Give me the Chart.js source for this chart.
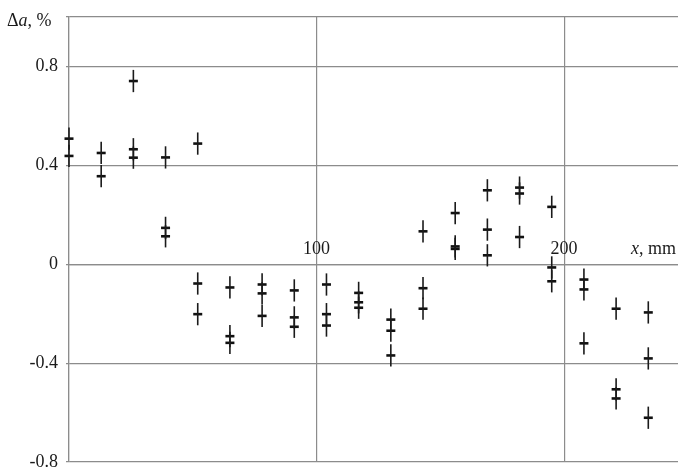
<!DOCTYPE html>
<html>
<head>
<meta charset="utf-8">
<script src="https://cdn.jsdelivr.net/npm/chart.js@4/dist/chart.umd.min.js"></script>
<style>
  html, body { margin: 0; padding: 0; background: #fff; }
  #wrap { width: 678px; height: 468px; }
</style>
</head>
<body>
<div id="wrap"><canvas id="myChart"></canvas></div>
<script>
// positions along the sample, mm (three readings at most per position)
const xMm = [
    0, 0,
    13, 13,
    26, 26, 26,
    39, 39, 39,
    52, 52, 52,
    65, 65, 65,
    78, 78, 78,
    91, 91, 91,
    104, 104, 104,
    117, 117, 117,
    130, 130, 130,
    143, 143, 143,
    156, 156, 156,
    169, 169, 169,
    182, 182, 182,
    195, 195, 195,
    208, 208, 208,
    221, 221, 221,
    234, 234, 234
];
// relative deviation, %
const deltaA = [
    0.508, 0.438,
    0.45, 0.356,
    0.741, 0.465, 0.431,
    0.432, 0.147, 0.113,
    0.488, -0.078, -0.202,
    -0.094, -0.291, -0.318,
    -0.082, -0.118, -0.209,
    -0.106, -0.215, -0.253,
    -0.082, -0.202, -0.248,
    -0.116, -0.154, -0.176,
    -0.224, -0.269, -0.369,
    0.133, -0.097, -0.18,
    0.207, 0.072, 0.062,
    0.299, 0.14, 0.036,
    0.31, 0.286, 0.11,
    0.232, -0.013, -0.069,
    -0.062, -0.102, -0.32,
    -0.18, -0.506, -0.543,
    -0.195, -0.381, -0.621
];
const errHalf = 0.045; // half length of the error bar
const xTicks = [100, 200];
const yTicks = [-0.8, -0.4, 0, 0.4, 0.8];

const serif = "'Liberation Serif', 'Times New Roman', serif";
const gridColor = '#8c8c8c';

// vertical error bars, drawn through the scales
const errorBars = {
    id: 'errorBars',
    afterDatasetsDraw(chart) {
        const ctx = chart.ctx;
        const xs = chart.scales.x, ys = chart.scales.y;
        ctx.save();
        ctx.strokeStyle = '#1a1a1a';
        ctx.lineWidth = 1.6;
        xMm.forEach((x, i) => {
            const px = xs.getPixelForValue(x);
            ctx.beginPath();
            ctx.moveTo(px, ys.getPixelForValue(deltaA[i] + errHalf));
            ctx.lineTo(px, ys.getPixelForValue(deltaA[i] - errHalf));
            ctx.stroke();
        });
        ctx.restore();
    }
};

// axis captions (italic variable names)
const captions = {
    id: 'captions',
    afterDraw(chart) {
        const ctx = chart.ctx;
        const ys = chart.scales.y;
        ctx.save();
        ctx.fillStyle = '#1a1a1a';
        ctx.textBaseline = 'middle';
        // Δa, %
        let yTop = ys.getPixelForValue(1.0) + 4;
        let x = 7;
        ctx.font = '18px ' + serif;
        ctx.fillText('\u0394', x, yTop);
        x += ctx.measureText('\u0394').width;
        ctx.font = 'italic 18px ' + serif;
        ctx.fillText('a', x, yTop);
        x += ctx.measureText('a').width;
        ctx.font = '18px ' + serif;
        ctx.fillText(', %', x, yTop);
        // x, mm
        const y0 = ys.getPixelForValue(0) - 15;
        x = 631;
        ctx.font = 'italic 18px ' + serif;
        ctx.fillText('x', x, y0);
        x += ctx.measureText('x').width;
        ctx.font = '18px ' + serif;
        ctx.fillText(', mm', x, y0);
        ctx.restore();
    }
};

const ctx = document.getElementById('myChart').getContext('2d');
new Chart(ctx, {
    type: 'scatter',
    data: {
        datasets: [{
            label: '\u0394a',
            data: xMm.map((x, i) => ({ x: x, y: deltaA[i] })),
            pointStyle: 'line',
            radius: 4.5,
            hoverRadius: 4.5,
            borderWidth: 2.6,
            borderColor: '#111',
            backgroundColor: '#111',
            clip: false
        }]
    },
    plugins: [errorBars, captions],
    options: {
        responsive: true,
        maintainAspectRatio: false,
        animation: false,
        layout: {
            autoPadding: false,
            padding: { top: 17, bottom: 6, left: 0, right: 0 }
        },
        plugins: {
            legend: { display: false },
            tooltip: { enabled: false }
        },
        scales: {
            x: {
                type: 'linear',
                position: { y: 0 },
                min: 0,
                max: 246,
                afterFit(scale) {
                    scale.paddingLeft = 0;
                    scale.paddingRight = 0;
                },
                afterBuildTicks(scale) {
                    scale.ticks = [0].concat(xTicks).map(v => ({ value: v }));
                },
                grid: {
                    color: gridColor,
                    lineWidth: 1.2,
                    drawTicks: false
                },
                border: { color: gridColor, width: 1.2 },
                ticks: {
                    padding: -26,
                    maxRotation: 0,
                    color: '#1a1a1a',
                    font: { family: serif, size: 18 },
                    callback: v => (xTicks.includes(v) ? String(v) : '')
                }
            },
            y: {
                min: -0.8,
                max: 1.0,
                afterFit(scale) {
                    scale.width = 69;
                    scale.paddingTop = 0;
                    scale.paddingBottom = 0;
                },
                afterBuildTicks(scale) {
                    scale.ticks = yTicks.concat([1.0]).map(v => ({ value: v }));
                },
                grid: {
                    color: gridColor,
                    lineWidth: 1.2,
                    tickLength: 3
                },
                border: { color: gridColor, width: 1.2 },
                ticks: {
                    padding: 8,
                    color: '#1a1a1a',
                    font: { family: serif, size: 18 },
                    callback: v => (yTicks.includes(v) ? (v === 0 ? '0' : v.toFixed(1)) : '')
                }
            }
        }
    }
});
</script>
</body>
</html>
